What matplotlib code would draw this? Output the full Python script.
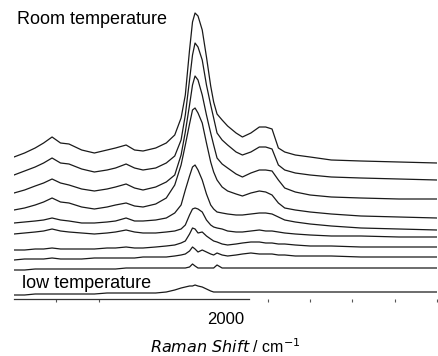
import matplotlib
matplotlib.use("Agg")
import matplotlib.pyplot as plt

# Raman shift grid (cm^-1) shared by all spectra
shift = [1500, 1525, 1550, 1570, 1590, 1610, 1630, 1660, 1690, 1720, 1740,
         1765, 1785, 1805, 1835, 1860, 1880, 1895, 1905, 1915, 1922, 1928,
         1935, 1945, 1955, 1965, 1972, 1980, 1992, 2005, 2025, 2040, 2060,
         2080, 2095, 2110, 2125, 2140, 2165, 2200, 2250, 2320, 2410, 2500]

# stacked intensities (a.u.), room temperature (top) -> low temperature (bottom)
spec_1 = [142, 146, 151, 156, 162, 156, 155, 149, 146, 149, 151, 154, 149, 148, 151,
          156, 164, 181, 204, 249, 277, 286, 283, 269, 242, 213, 197, 185, 179, 173,
          166, 162, 166, 172, 172, 170, 151, 147, 144, 142, 139, 138, 137, 136]
spec_2 = [124, 128, 132, 136, 141, 136, 135, 130, 127, 129, 131, 135, 131, 129, 131,
          136, 143, 159, 184, 219, 244, 256, 252, 239, 214, 194, 181, 166, 159, 154,
          147, 144, 147, 152, 152, 150, 134, 129, 126, 124, 122, 121, 120, 119]
spec_3 = [106, 109, 113, 116, 120, 116, 114, 110, 108, 110, 112, 115, 111, 109, 112,
          117, 124, 144, 167, 194, 214, 223, 219, 204, 184, 166, 154, 141, 135, 131,
          125, 122, 126, 129, 129, 128, 119, 111, 107, 104, 102, 101, 100, 100]
spec_4 = [89, 91, 94, 97, 101, 97, 96, 92, 90, 92, 94, 96, 93, 92, 95,
          101, 114, 134, 154, 175, 189, 191, 186, 176, 156, 137, 127, 119, 112, 108,
          105, 103, 106, 108, 107, 104, 96, 91, 89, 87, 85, 83, 82, 81]
spec_5 = [76, 77, 78, 79, 81, 79, 78, 76, 76, 77, 78, 81, 78, 78, 79,
          81, 86, 94, 109, 123, 132, 134, 129, 119, 105, 94, 90, 87, 86, 85,
          84, 84, 85, 86, 86, 85, 82, 79, 77, 75, 73, 71, 70, 69]
spec_6 = [65, 66, 67, 68, 70, 68, 67, 66, 65, 66, 67, 69, 67, 66, 66,
          67, 68, 70, 74, 84, 90, 91, 90, 87, 79, 74, 72, 71, 70, 68,
          67, 67, 68, 69, 68, 68, 67, 66, 65, 64, 63, 63, 62, 62]
spec_7 = [49, 49, 50, 50, 51, 50, 50, 50, 50, 51, 51, 52, 51, 51, 52,
          53, 54, 56, 58, 65, 71, 70, 66, 67, 63, 60, 58, 57, 55, 54,
          55, 56, 57, 57, 56, 56, 55, 55, 54, 53, 53, 52, 52, 52]
spec_8 = [39, 40, 40, 40, 41, 40, 40, 40, 41, 41, 41, 41, 41, 42, 42,
          42, 43, 44, 45, 48, 52, 50, 47, 49, 47, 45, 44, 46, 44, 43,
          44, 45, 46, 45, 45, 45, 44, 44, 43, 43, 43, 42, 42, 42]
spec_9 = [29, 29, 30, 30, 30, 30, 30, 30, 30, 30, 30, 31, 31, 31, 31,
          31, 31, 31, 31, 32, 35, 33, 31, 31, 31, 31, 31, 34, 31, 31,
          31, 31, 31, 31, 31, 31, 31, 31, 31, 31, 31, 31, 31, 31]
spec_10 = [4, 4, 5, 5, 5, 5, 5, 5, 5, 6, 6, 6, 6, 6, 6,
           7, 9, 11, 12, 13, 13, 14, 13, 12, 10, 8, 7, 7, 7, 7,
           7, 7, 7, 7, 7, 7, 7, 7, 7, 7, 7, 7, 7, 7]

spectra = [spec_1, spec_2, spec_3, spec_4, spec_5,
           spec_6, spec_7, spec_8, spec_9, spec_10]

fig = plt.figure(figsize=(4.38, 3.56), dpi=100)
ax = fig.add_axes([14 / 438, 57 / 356, 423 / 438, 299 / 356])

for s in spectra:
    ax.plot(shift, s, color="#1a1a1a", lw=0.9)

ax.set_xlim(1500, 2500)
ax.set_ylim(0, 299)

for side in ["top", "right", "left"]:
    ax.spines[side].set_visible(False)
ax.spines["bottom"].set_bounds(1500, 2055)
ax.spines["bottom"].set_linewidth(0.9)
ax.spines["bottom"].set_color("#333333")

ax.set_yticks([])
ax.set_xticks([2000])
ax.set_xticklabels(["2000"], fontsize=12, family="Liberation Sans")
ax.set_xticks([1600, 1700, 2100, 2200, 2300, 2400, 2500], minor=True)
ax.tick_params(axis="x", which="major", length=0, pad=9)
ax.tick_params(axis="x", which="minor", length=2.5, width=0.8, color="#555555")

ax.set_xlabel(r"$\it{Raman\ Shift}$ / cm$^{-1}$", fontsize=11.5,
              family="Liberation Sans", labelpad=8)

ax.text(1506, 279, "Room temperature", fontsize=13, family="Liberation Sans",
        va="center", ha="left")
ax.text(1520, 16, "low temperature", fontsize=13, family="Liberation Sans",
        va="center", ha="left")

fig.savefig("out.png", dpi=100)
